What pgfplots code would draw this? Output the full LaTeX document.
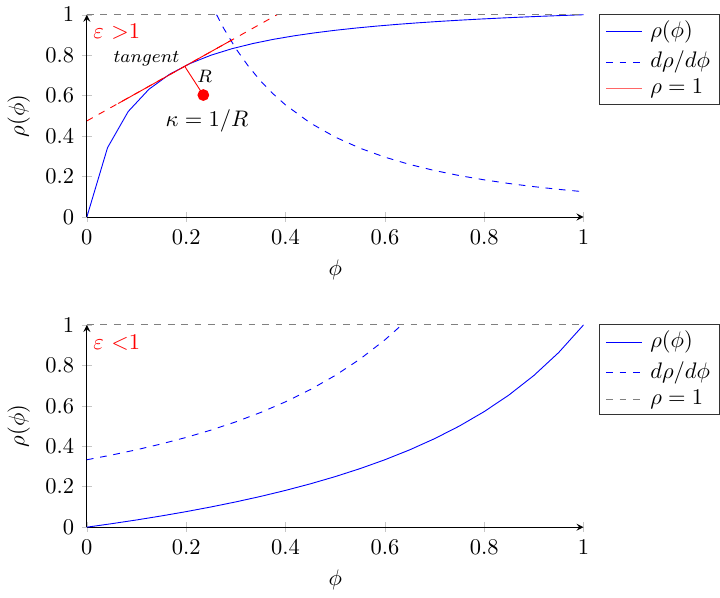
\documentclass[border=0pt]{standalone}
\usepackage{pgfplots}
\pgfplotsset{compat=1.18}

\pgfplotsset{
  rhostyle/.style={
    width=221pt, height=90pt, scale only axis,
    axis lines=left,
    xmin=0, xmax=1, ymin=0, ymax=1,
    xtick={0,0.2,...,1}, ytick={0,0.2,...,1},
    tick style={gray!45}, tick align=center,
    xlabel={$\phi$}, ylabel={$\rho(\phi)$},
  },
}

% legend box; #1 is the north east corner of its axis
\newcommand{\sidelegend}[7]{%
  \begin{scope}[shift={#1}, xshift=7pt]
    \draw[black!80] (0,0) rectangle (53.5pt,-40pt);
    \draw[#2] (3pt,-7.6pt) -- (19pt,-7.6pt);
    \node[anchor=west, inner sep=0pt] at (22.5pt,-7.6pt) {#3};
    \draw[#4] (3pt,-21.2pt) -- (19pt,-21.2pt);
    \node[anchor=west, inner sep=0pt] at (22.5pt,-21.2pt) {#5};
    \draw[#6] (3pt,-33pt) -- (19pt,-33pt);
    \node[anchor=west, inner sep=0pt] at (22.5pt,-33pt) {#7};
  \end{scope}}

\begin{document}
\begin{tikzpicture}
% legends first, so that their colours are set before the axes
\sidelegend{(221pt,90pt)}{blue}{$\rho(\phi)$}{blue,dashed}{$d\rho/d\phi$}{red!60}{$\rho=1$}
\sidelegend{(221pt,-48pt)}{blue}{$\rho(\phi)$}{blue,dashed}{$d\rho/d\phi$}{gray,dashed}{$\rho=1$}

% upper panel: epsilon > 1
\begin{axis}[rhostyle, at={(0pt,0pt)}]
  \addplot[blue] coordinates {
    (0,0) (0.041667,0.34286) (0.083333,0.52174) (0.125,0.63158)
    (0.166667,0.70588) (0.208333,0.75949) (0.25,0.8) (0.291667,0.83168)
    (0.333333,0.85714) (0.375,0.87805) (0.416667,0.89552) (0.458333,0.91034)
    (0.5,0.92308) (0.541667,0.93413) (0.583333,0.94382) (0.625,0.95238)
    (0.666667,0.96) (0.708333,0.96682) (0.75,0.97297) (0.791667,0.97854)
    (0.833333,0.98361) (0.875,0.98824) (0.916667,0.99248) (0.958333,0.99639)
    (1,1)
  };
  \addplot[blue, dashed] coordinates {
    (0.2612,1.0) (0.275,0.935) (0.3,0.8325) (0.325,0.7459) (0.35,0.6721)
    (0.375,0.6088) (0.4,0.5540) (0.45,0.4645) (0.5,0.3951) (0.55,0.3401)
    (0.6,0.2959) (0.65,0.2597) (0.7,0.2298) (0.75,0.2048) (0.8,0.1837)
    (0.85,0.1656) (0.9,0.1501) (0.95,0.1367) (1,0.125)
  };
  \addplot[red] coordinates {(0.063,0.561) (0.294,0.878)};
  \addplot[red, dashed] coordinates {(0,0.475) (0.383,1.0)};
  \addplot[gray, dashed] coordinates {(0,1) (1,1)};
  % radius to the centre of curvature
  \addplot[red] coordinates {(0.197,0.745) (0.2345,0.603)};
  \addplot[red, only marks, mark=*, mark size=2.4pt] coordinates {(0.2345,0.603)};
  \node[red] at (axis cs:0.06,0.915) {$\varepsilon$ $>$1};
  \node[font=\footnotesize] at (axis cs:0.12,0.785) {$tangent$};
  \node[font=\footnotesize] at (axis cs:0.237,0.693) {$R$};
  \node at (axis cs:0.242,0.474) {$\kappa=1/R$};
\end{axis}

% lower panel: epsilon < 1
\begin{axis}[rhostyle, at={(0pt,-138pt)}]
  \addplot[blue] coordinates {
    (0,0) (0.05,0.01724) (0.1,0.03571) (0.15,0.05556) (0.2,0.07692)
    (0.25,0.1) (0.3,0.125) (0.35,0.15217) (0.4,0.18182) (0.45,0.21429)
    (0.5,0.25) (0.55,0.28947) (0.6,0.33333) (0.65,0.38235) (0.7,0.4375)
    (0.75,0.5) (0.8,0.57143) (0.85,0.65385) (0.9,0.75) (0.95,0.86364)
    (1,1)
  };
  \addplot[blue, dashed] coordinates {
    (0,0.3333) (0.05,0.3567) (0.1,0.3827) (0.15,0.4115) (0.2,0.4438)
    (0.25,0.48) (0.3,0.5208) (0.35,0.5671) (0.4,0.6198) (0.45,0.6803)
    (0.5,0.75) (0.55,0.8310) (0.6,0.9259) (0.634,1.0)
  };
  \addplot[gray, dashed] coordinates {(0,1) (1,1)};
  \node[red] at (axis cs:0.06,0.915) {$\varepsilon$ $<$1};
\end{axis}
\end{tikzpicture}
\end{document}
